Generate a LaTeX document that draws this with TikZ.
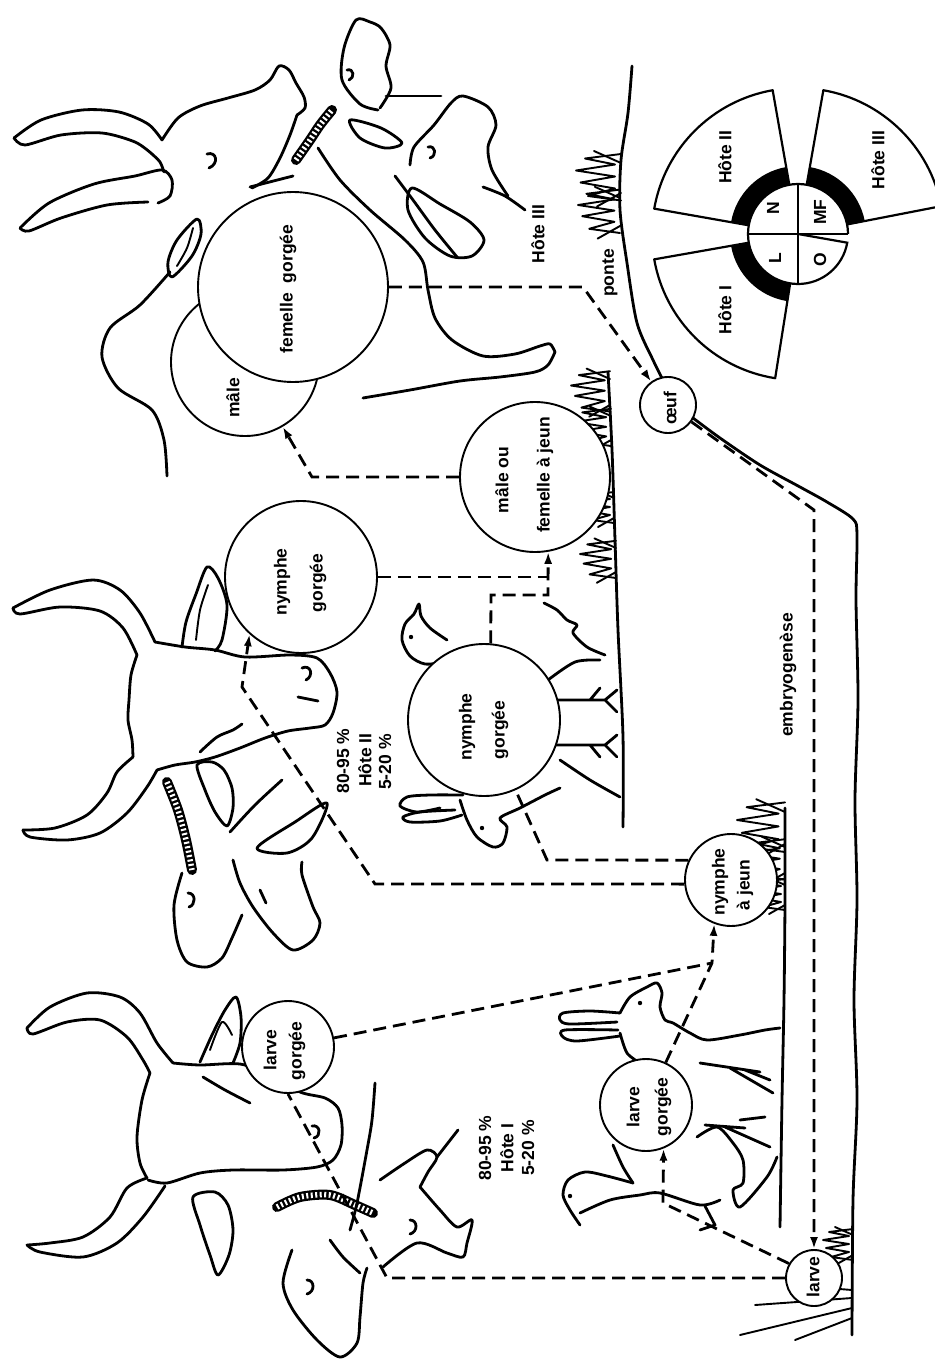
\documentclass[tikz,border=0pt]{standalone}
\usepackage{fontspec}
\setmainfont{Liberation Sans}
\usetikzlibrary{arrows.meta}
\newcommand\labfont{\fontsize{17.5}{20}\selectfont\bfseries}
\begin{document}
\begin{tikzpicture}[x=1pt,y=-1pt,
  ln/.style={line width=2.8pt,line cap=round,line join=round},
  fine/.style={line width=1.9pt,line cap=round,line join=round},
  ring/.style={draw,circle,line width=1.9pt,fill=white,inner sep=0pt},
  conn/.style={line width=2.8pt,dash pattern=on 13pt off 7pt},
  tip/.style={-{Latex[length=12pt,width=8pt]}},
  lab/.style={rotate=90,font=\labfont,inner sep=0pt},
  tickbody/.style={line width=10pt,line cap=round,
    postaction={draw,white,line width=5.5pt,line cap=butt,dash pattern=on 2pt off 2.5pt}},
  tuft/.pic={\draw[fine] (0,-16) -- (-24,-13) -- (-4,-9) -- (-30,-5) -- (-4,-1)
     -- (-27,3) -- (-4,7) -- (-22,12) -- (0,15);
     \draw[fine] (0,-10) -- (-18,-18) (0,10) -- (-16,19);}]
\useasboundingbox (0,0) rectangle (934,1359);

% ===== ground lines =====
\draw[ln] plot[smooth] coordinates {(632,66) (628,113) (621,160) (620,210) (627,263) (637,323) (653,360) (663,380)};
\draw[ln] plot[smooth] coordinates {(693,418) (720,438) (760,465) (800,487) (827,502) (853,519) (857,535) (856,600) (858,700) (855,800) (857,900) (854,1000) (857,1100) (853,1200) (852,1335)};
\draw[ln] plot[smooth] coordinates {(608,372) (612,450) (615,540) (618,630) (623,737) (623,827)};
\draw[ln] plot[smooth] coordinates {(785,808) (785,900) (784,1000) (782,1100) (780,1227)};
% grass
\pic[scale=1.5] (ga) at (621,178) {tuft};
\pic[scale=1.4] (gb) at (620,212) {tuft};
\pic[scale=1.3] (gc) at (610,392) {tuft};
\pic[scale=1.2] (gd) at (611,428) {tuft};
\pic (ge) at (614,508) {tuft};
\pic[scale=1.2] (gf) at (616,560) {tuft};
\pic[scale=1.6] (gg) at (785,828) {tuft};
\pic[scale=1.3] (gh) at (785,860) {tuft};
\pic (gi) at (785,895) {tuft};
\pic (gj) at (853,1245) {tuft};
\draw[fine] (852,1298) -- (755,1305) (852,1308) -- (740,1335) (852,1318) -- (795,1340) (852,1290) -- (790,1285);

% ===== top cattle (host III) with its two small heads =====
\draw[ln] plot[smooth] coordinates {(14,138) (41,120) (82,110) (119,112) (148,124) (162,140)};
\draw[ln] plot[smooth] coordinates {(14,138) (25,145) (61,135) (102,133) (135,142) (152,154)};
\draw[ln] plot[smooth] coordinates {(20,228) (49,203) (94,184) (135,176) (162,170) (172,180) (170,196) (158,203)};
\draw[ln] plot[smooth] coordinates {(20,228) (29,231) (61,218) (107,205) (148,202)};
\draw[ln] plot[smooth] coordinates {(152,154) (160,162) (164,172)};
\draw[ln] plot[smooth] coordinates {(162,140) (178,118) (200,106) (228,98) (255,90) (270,80) (279,66) (289,70) (296,83) (304,97) (305,108) (297,115)};
\draw[ln] plot[smooth] coordinates {(297,115) (290,135) (280,158) (268,178) (252,188)};
\draw[ln] (250,187) -- (293,176);
\draw[ln] (207,154) .. controls (217,151) and (219,164) .. (209,168);
\draw[ln] plot[smooth cycle] coordinates {(197,219) (201,234) (192,256) (172,277) (168,262) (177,240)};
\draw[fine] plot[smooth] coordinates {(193,228) (187,248) (177,266)};
\draw[ln] plot[smooth] coordinates {(170,272) (140,305) (110,328) (102,357) (118,388) (152,410) (164,440) (167,476)};
\draw[ln] plot[smooth] coordinates {(318,148) (340,180) (370,210) (405,240) (423,262) (428,290) (435,318) (452,340) (483,356) (515,354) (540,346) (550,344) (555,352)};
\draw[ln] plot[smooth] coordinates {(363,398) (410,390) (460,381) (500,377) (535,372) (548,365) (555,352)};
\draw[ln] plot[smooth] coordinates {(395,176) (413,200) (435,230) (457,257)};
\draw[ln] plot[smooth cycle] coordinates {(412,188) (440,204) (470,222) (484,240) (472,256) (450,256) (425,238) (408,210)};
\draw[ln] plot[smooth] coordinates {(483,187) (505,196) (525,210)};
\draw[tickbody] plot[smooth] coordinates {(296,160) (310,140) (320,125) (332,110)};
% small head on the muzzle
\draw[ln] plot[smooth] coordinates {(378,110) (360,104) (342,80) (344,48) (356,20) (370,22) (381,28) (390,45) (386,66) (391,88) (380,108)};
\draw[ln] (347,70) .. controls (354,68) and (355,78) .. (349,80);
\draw[ln] (386,96) -- (441,96);
\draw[ln] plot[smooth cycle] coordinates {(350,120) (381,128) (402,143) (385,148) (360,138)};
% second small head
\draw[ln] plot[smooth] coordinates {(410,165) (414,147) (434,125) (451,103) (463,96) (488,107) (496,125) (488,147) (492,170) (508,196)};
\draw[ln] (428,147) .. controls (436,145) and (437,156) .. (430,158);

% ===== middle cattle (host II) =====
\draw[ln] plot[smooth] coordinates {(13,608) (50,590) (93,580) (120,590) (140,613) (155,642)};
\draw[ln] plot[smooth] coordinates {(13,608) (20,614) (60,607) (100,611) (123,628) (137,655)};
\draw[ln] plot[smooth] coordinates {(155,642) (185,647) (215,650) (245,657) (290,655) (317,658) (330,673) (337,692) (333,713) (325,725) (310,728) (288,731) (265,738) (240,748) (215,757) (195,762) (175,765) (157,770)};
\draw[ln] plot[smooth] coordinates {(137,655) (131,675) (129,700) (128,720) (132,740) (133,757)};
\draw[ln] plot[smooth] coordinates {(133,757) (117,772) (107,793) (87,815) (55,828) (23,830)};
\draw[ln] plot[smooth] coordinates {(23,830) (30,837) (67,840) (100,833) (127,813) (147,787) (157,770)};
\draw[ln] plot[smooth] coordinates {(182,647) (186,622) (196,594) (207,567) (218,578) (227,605) (222,640) (215,651)};
\draw[fine] plot[smooth] coordinates {(196,640) (200,610) (208,585)};
\draw[ln] plot[smooth cycle] coordinates {(197,765) (205,790) (215,812) (227,826) (233,808) (232,788) (224,770) (212,762)};
\draw[ln] plot[smooth] coordinates {(200,752) (217,737) (233,730) (242,724)};
\draw[ln] (302,668) .. controls (311,664) and (314,676) .. (306,680);
\draw[ln] (298,697) -- (318,701);
\draw[tickbody] plot[smooth] coordinates {(167,782) (178,810) (186,840) (192,870)};
\draw[ln] plot[smooth] coordinates {(182,873) (174,905) (177,940) (187,962) (207,967) (222,958) (232,938) (242,915)};
\draw[ln] (188,893) .. controls (196,893) and (196,905) .. (189,907);
\draw[ln] plot[smooth] coordinates {(233,860) (240,883) (253,907) (273,933) (293,950) (313,940) (320,923) (313,907) (302,875) (302,862)};
\draw[ln] plot[smooth cycle] coordinates {(257,848) (295,822) (327,803) (312,838) (287,853)};
\draw[ln] (260,890) -- (266,903);
\draw[ln] plot[smooth] coordinates {(230,832) (255,805) (282,780)};

% ===== lower cattle (host I) =====
\draw[ln] plot[smooth] coordinates {(27,1028) (50,1007) (87,993) (120,997) (140,1013) (157,1043) (173,1063)};
\draw[ln] plot[smooth] coordinates {(27,1028) (33,1034) (67,1022) (100,1020) (127,1037) (143,1060) (150,1073)};
\draw[ln] plot[smooth] coordinates {(173,1063) (200,1065) (240,1064) (270,1075) (300,1092) (325,1098) (338,1108) (342,1125) (341,1145) (333,1160) (317,1167) (283,1170) (233,1170) (200,1173) (167,1183) (148,1180)};
\draw[ln] plot[smooth] coordinates {(150,1073) (142,1100) (137,1137) (140,1163) (147,1178)};
\draw[ln] plot[smooth] coordinates {(147,1178) (127,1188) (110,1217) (83,1237) (50,1243) (27,1245)};
\draw[ln] plot[smooth] coordinates {(27,1245) (40,1252) (83,1257) (117,1243) (143,1217) (165,1186)};
\draw[ln] plot[smooth] coordinates {(200,1062) (212,1035) (225,1010) (236,997) (241,1017) (240,1043) (233,1063)};
\draw[fine] plot[smooth] coordinates {(210,1050) (222,1022) (232,1035)};
\draw[ln] plot[smooth cycle] coordinates {(193,1197) (200,1225) (210,1255) (218,1275) (229,1255) (233,1230) (228,1205) (215,1192)};
\draw[ln] plot[smooth] coordinates {(203,1077) (225,1090) (250,1103)};
\draw[ln] (312,1126) .. controls (320,1124) and (322,1136) .. (314,1138);
\draw[tickbody] plot[smooth] coordinates {(277,1207) (300,1197) (330,1195) (355,1205) (373,1213)};
\draw[ln] plot[smooth] coordinates {(375,1083) (372,1120) (367,1150) (357,1203) (350,1230)};
\draw[ln] plot[smooth] coordinates {(380,1180) (405,1163) (427,1150) (437,1157) (428,1172) (420,1187)};
\draw[ln] (437,1157) -- (458,1130);
\draw[ln] plot[smooth] coordinates {(420,1187) (440,1210) (457,1227) (472,1220) (467,1243) (463,1257) (447,1253) (417,1243) (383,1267)};
\draw[ln] (410,1220) .. controls (418,1220) and (418,1232) .. (410,1234);
\draw[ln] plot[smooth] coordinates {(292,1250) (283,1283) (293,1310) (317,1340) (340,1357) (357,1343) (360,1317) (363,1283) (367,1268)};
\draw[ln] (307,1280) .. controls (315,1280) and (315,1292) .. (307,1294);
\draw[ln] plot[smooth] coordinates {(330,1240) (343,1257) (360,1273)};

% ===== goat, bird and rabbit around the middle nymph =====
\draw[ln] plot[smooth] coordinates {(445,662) (425,664) (410,656) (402,640) (405,624) (414,614) (419,604) (421,616) (430,628) (447,640)};
\fill (411,637) circle (2.2);
\draw[ln] plot[smooth] coordinates {(463,795) (430,795) (407,797) (400,806) (417,812) (440,808)};
\draw[ln] plot[smooth] coordinates {(455,810) (420,812) (403,817) (410,822) (440,821) (462,815)};
\draw[ln] plot[smooth] coordinates {(460,800) (467,820) (477,837) (493,847) (503,843) (507,827) (500,818) (520,808) (545,795) (560,788)};
\fill (482,828) circle (2.2);
\draw[ln] plot[smooth] coordinates {(544,603) (557,610) (567,620) (577,625) (573,633) (587,647) (605,655)};
\draw[ln] (548,700) -- (605,700) (605,700) -- (617,690) (605,700) -- (617,712) (590,700) -- (600,688);
\draw[ln] (550,745) -- (605,745) (605,745) -- (617,735) (605,745) -- (617,757) (590,745) -- (600,757);
\draw[ln] plot[smooth] coordinates {(560,760) (590,780) (620,797)};
\draw[ln] plot[smooth] coordinates {(548,680) (575,662) (600,660)};

% ===== rabbit and bird around the lower larva =====
\draw[ln] plot[smooth] coordinates {(620,1013) (590,1011) (563,1013) (560,1020) (570,1024) (617,1022)};
\draw[ln] plot[smooth] coordinates {(618,1030) (565,1030) (563,1037) (577,1041) (620,1036)};
\draw[ln] plot[smooth] coordinates {(620,1013) (630,997) (647,987) (657,983) (662,993) (660,1007) (665,1020) (673,1023) (690,1033) (707,1040) (740,1035) (765,1030) (780,1028)};
\fill (640,1003) circle (2.2);
\draw[ln] plot[smooth] coordinates {(620,1033) (627,1053) (640,1063)};
\draw[ln] (700,1063) -- (760,1072) (730,1068) -- (773,1093) (745,1070) -- (770,1080);
\draw[ln] (705,1125) -- (745,1128) (725,1127) -- (770,1147) (740,1120) -- (765,1117);
\draw[ln] plot[smooth] coordinates {(633,1183) (607,1176) (585,1172) (568,1180) (563,1195) (570,1210) (580,1225)};
\fill (570,1196) circle (2.2);
\draw[ln] plot[smooth] coordinates {(580,1213) (610,1200) (640,1195) (660,1193) (700,1205) (720,1200)};
\draw[ln] (705,1206) -- (715,1225) -- (700,1230);
\draw[ln] plot[smooth] coordinates {(613,1145) (623,1167) (633,1183)};
\draw[ln] plot[smooth] coordinates {(697,1137) (717,1127) (733,1143) (743,1160) (743,1183) (733,1190) (740,1207) (767,1177) (777,1157)};

% ===== stage circles =====
\node[ring,minimum size=148pt] (male) at (245,362) {};
\node[ring,minimum size=190pt] (fem) at (293,287) {};
\node[ring,minimum size=150pt] (mfj) at (535,477) {};
\node[ring,minimum size=152pt] (nyg1) at (301,577) {};
\node[ring,minimum size=152pt] (nyg2) at (484,720) {};
\node[ring,minimum size=92pt] (nyj) at (731,880) {};
\node[ring,minimum size=92pt] (lg2) at (646,1105) {};
\node[ring,minimum size=92pt] (lg1) at (288,1047) {};
\node[ring,minimum size=56pt] (larve) at (814,1278) {};
\node[ring,minimum size=56pt] (oeuf) at (668,405) {};

% ===== cycle connectors =====
\draw[conn,tip] (fem.east) -- (583,287) -- (oeuf);
\draw[conn,tip] (oeuf) -- (814,510) -- (larve);
\draw[conn,tip] (mfj.west) -- (312,477) -- (male);
\draw[conn] (nyg1.east) -- (548,577);
\draw[conn,tip] (nyg2.85) -- (491,595) -- (548,595) -- (mfj.-80);
\draw[conn,tip] (nyj.185) -- (375,884) -- (242,687) -- (nyg1.-132);
\draw[conn] (nyj.155) -- (547,860) -- (nyg2);
\draw[conn,tip] (lg2) -- (712,963) -- (nyj.-111);
\draw[conn] (lg1) -- (712,963);
\draw[conn] (larve.west) -- (387,1278) -- (lg1.south);
\draw[conn,tip] (larve.150) -- (663,1203) -- (lg2.-68);

% ===== host diagram =====
\begin{scope}[shift={(798,234)},y=1pt]
  \foreach \a/\b in {190/261,100/170,11/80}{
    \fill (\a:50) arc[start angle=\a,end angle=\b,radius=50] -- (\b:68)
          arc[start angle=\b,end angle=\a,radius=68] -- cycle;
    \draw[line width=2.2pt,line join=round] (\a:50) -- (\a:146)
          arc[start angle=\a,end angle=\b,radius=146] -- (\b:50);
  }
  \draw[line width=2.2pt] (0:50) arc[start angle=0,end angle=270,radius=50];
  \draw[line width=2.2pt] (-90:50) arc[start angle=-90,end angle=-10,radius=50] -- (0,0);
  \draw[line width=2.2pt] (0,50) -- (0,-50) (-50,0) -- (50,0);
\end{scope}

% ===== texts =====
\node[lab] (tfem) at (288,289) {femelle\ \ gorgée};
\node[lab] (tmale) at (233,398) {mâle};
\node[lab] (tmfja) at (502,480) {mâle ou};
\node[lab] (tmfjb) at (545,475) {femelle à jeun};
\node[lab] (tny1a) at (282,582) {nymphe};
\node[lab] (tny1b) at (318,583) {gorgée};
\node[lab] (tny2a) at (467,727) {nymphe};
\node[lab] (tny2b) at (500,730) {gorgée};
\node[lab] (tnyja) at (720,882) {nymphe};
\node[lab] (tnyjb) at (745,885) {à jeun};
\node[lab] (tlg2a) at (633,1107) {larve};
\node[lab] (tlg2b) at (663,1107) {gorgée};
\node[lab] (tlg1a) at (270,1050) {larve};
\node[lab] (tlg1b) at (297,1051) {gorgée};
\node[lab] (tlarve) at (813,1277) {larve};
\node[lab] (toeuf) at (670,408) {œuf};
\node[lab] (tponte) at (610,273) {ponte};
\node[lab] (th3) at (538,234) {Hôte III};
\node[lab] (tembryo) at (788,675) {embryogenèse};
\node[lab] (tp2a) at (343,761) {80-95 \%};
\node[lab] (tp2b) at (365,760) {Hôte II};
\node[lab] (tp2c) at (385,762) {5-20 \%};
\node[lab] (tp1a) at (485,1148) {80-95 \%};
\node[lab] (tp1b) at (507,1148) {Hôte I};
\node[lab] (tp1c) at (528,1148) {5-20 \%};
\node[lab] (tdh1) at (725,310) {Hôte I};
\node[lab] (tdh2) at (725,157) {Hôte II};
\node[lab] (tdh3) at (878,160) {Hôte III};
\node[lab] (tdn) at (773,208) {N};
\node[lab] (tdmf) at (820,212) {MF};
\node[lab] (tdl) at (775,258) {L};
\node[lab] (tdo) at (820,260) {O};
\end{tikzpicture}
\end{document}
